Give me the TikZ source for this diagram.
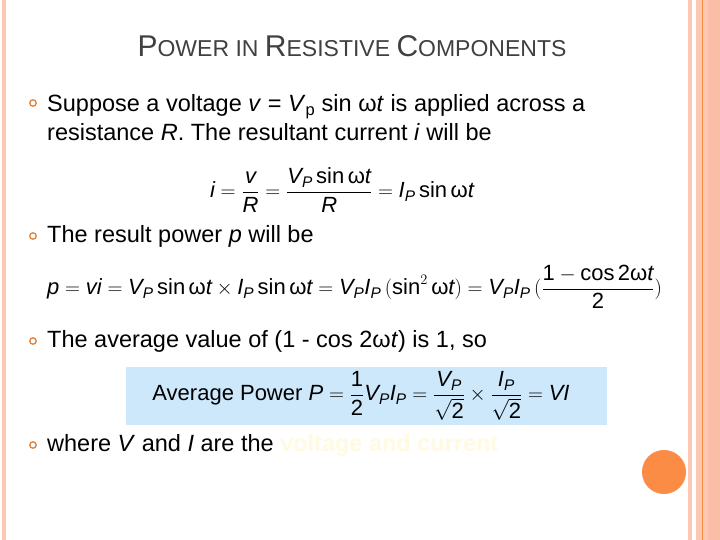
\documentclass[tikz,border=0pt]{standalone}
\usepackage{fontspec}
\setmainfont{Liberation Sans}
\usepackage{amsmath}
\definecolor{peach}{RGB}{252,200,180}
\definecolor{peachd}{RGB}{250,190,168}
\definecolor{orng}{RGB}{250,140,70}
\definecolor{bullet}{RGB}{225,130,60}
\definecolor{boxblue}{RGB}{204,232,250}
\definecolor{faint}{RGB}{255,250,225}
\newcommand\tx[1]{\text{#1}}
\newcommand\ti[1]{\text{\itshape #1}}
\begin{document}
\begin{tikzpicture}[x=1pt,y=-1pt,
  bul/.style={circle,draw=bullet,line width=1.3pt,inner sep=0pt,minimum size=6.5pt},
  body/.style={anchor=west,inner sep=0pt,font=\fontsize{23.5}{29}\selectfont,align=left},
  eq/.style={inner sep=0pt,font=\fontsize{22}{26}\selectfont}]
\useasboundingbox (0,0) rectangle (720,540);
\fill[white] (0,0) rectangle (720,540);
% decorations
\fill[peach] (2,0) rectangle (6,540);
\fill[peach] (688,0) rectangle (692,540);
\fill[peach] (696,0) rectangle (708,540);
\fill[peachd] (708,0) rectangle (720,540);
\draw[orng,line width=0.8pt] (702,0) -- (702,540);
\fill[orng] (664,472) circle (22);
% title
\node[inner sep=0pt,text=black!75] (title) at (352,46) {\fontsize{30}{34}\selectfont P\fontsize{23}{34}\selectfont OWER IN \fontsize{30}{34}\selectfont R\fontsize{23}{34}\selectfont ESISTIVE \fontsize{30}{34}\selectfont C\fontsize{23}{34}\selectfont OMPONENTS};
% bullets
\node[bul] (b1) at (33,103) {};
\node[bul] (b2) at (33,236) {};
\node[bul] (b3) at (33,341) {};
\node[bul] (b4) at (33,445) {};
\node[body] (t1) at (47,117.5) {Suppose a voltage \textit{v} = \textit{V}\textsubscript{p} sin ω\textit{t} is applied across a\\resistance \textit{R}. The resultant current \textit{i} will be};
\node[body] (t2) at (47,236) {The result power \textit{p} will be};
\node[body] (t3) at (47,341) {The average value of (1 - cos 2ω\textit{t}) is 1, so};
\node[body] (t4) at (47,445) {where \textit{V} and \textit{I} are the \textcolor{faint}{\bfseries voltage and current}};
% equations
\node[eq] (e1) at (342,190) {$\ti{i}=\dfrac{\ti{v}}{\ti{R}}=\dfrac{\ti{V}_{\ti{P}}\,\tx{sin}\,\tx{ω}\ti{t}}{\ti{R}}=\ti{I}_{\ti{P}}\,\tx{sin}\,\tx{ω}\ti{t}$};
\node[eq,anchor=west] (e2) at (47,287) {$\ti{p}=\ti{vi}=\ti{V}_{\ti{P}}\,\tx{sin}\,\tx{ω}\ti{t}\times\ti{I}_{\ti{P}}\,\tx{sin}\,\tx{ω}\ti{t}=\ti{V}_{\ti{P}}\ti{I}_{\ti{P}}\,(\tx{sin}^2\,\tx{ω}\ti{t})=\ti{V}_{\ti{P}}\ti{I}_{\ti{P}}\,(\dfrac{\tx{1}-\tx{cos}\,\tx{2ω}\ti{t}}{\tx{2}})$};
\fill[boxblue] (126,367) rectangle (607,425);
\node[eq] (e3) at (361,396) {$\tx{Average Power }\ti{P}=\dfrac{\tx{1}}{\tx{2}}\ti{V}_{\ti{P}}\ti{I}_{\ti{P}}=\dfrac{\ti{V}_{\ti{P}}}{\sqrt{\tx{2}}}\times\dfrac{\ti{I}_{\ti{P}}}{\sqrt{\tx{2}}}=\ti{VI}$};
\end{tikzpicture}
\end{document}
